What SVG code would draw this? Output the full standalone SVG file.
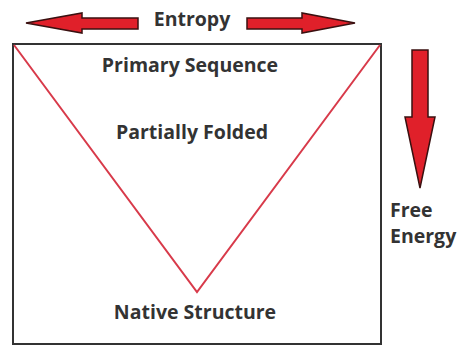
<svg xmlns="http://www.w3.org/2000/svg" width="460" height="347" viewBox="0 0 460 347">
<style>
.lbl{font-family:"Open Sans","Liberation Sans",sans-serif;font-weight:bold;fill:#333;font-size:19.5px}
.arr{fill:#e0202a;stroke:#3a1010;stroke-width:1.5;stroke-linejoin:miter}
</style>
<rect width="460" height="347" fill="#fff"/>
<g id="frame"><rect x="13" y="44" width="368" height="300" fill="none" stroke="#333" stroke-width="2"/></g>
<g id="connectors">
<polyline points="14,45 197,292 380,45" fill="none" stroke="#d83a4a" stroke-width="2"/>
</g>
<g id="entropy-left"><polygon class="arr" points="26,23 82,13 82,18 138,18 138,29 82,29 82,33"/></g>
<g id="entropy-right"><polygon class="arr" points="355,23 302,13 302,18 247,18 247,29 302,29 302,33"/></g>
<g id="entropy"><text class="lbl" x="192" y="26" text-anchor="middle">Entropy</text></g>
<g id="free-energy-arrow"><polygon class="arr" points="412,50 428,50 428,117 435,117 420,188 405,117 412,117"/></g>
<g id="free-energy"><text class="lbl" x="390" y="217">Free</text><text class="lbl" x="390" y="243">Energy</text></g>
<g id="primary"><text class="lbl" x="190" y="72" text-anchor="middle">Primary Sequence</text></g>
<g id="partial"><text class="lbl" x="192" y="139" text-anchor="middle">Partially Folded</text></g>
<g id="native"><text class="lbl" x="195" y="319" text-anchor="middle">Native Structure</text></g>
</svg>
